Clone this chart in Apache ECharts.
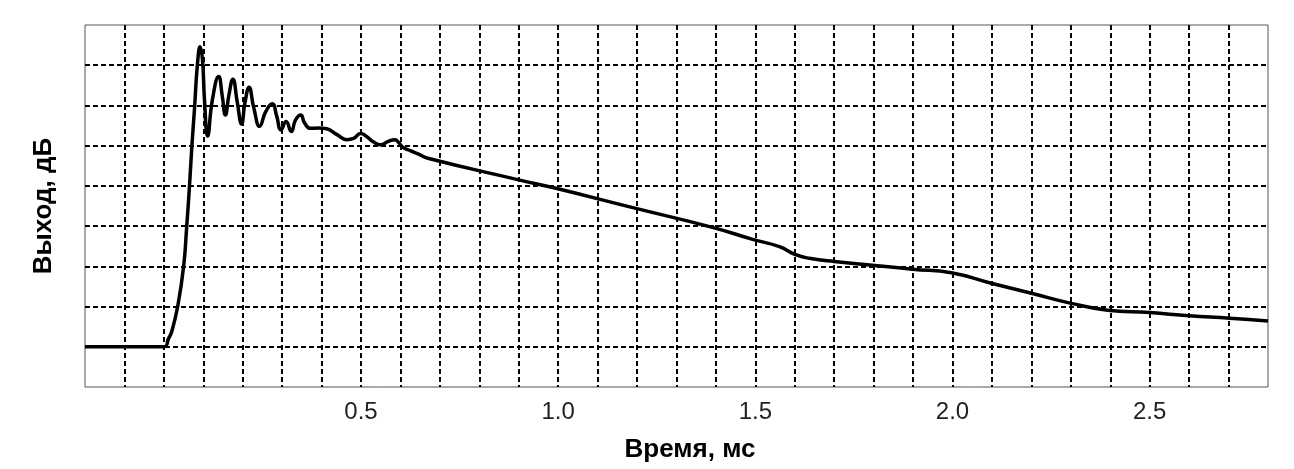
<!DOCTYPE html>
<html>
<head>
<meta charset="utf-8">
<title>Выход, дБ</title>
<script src="https://cdn.jsdelivr.net/npm/echarts@6/dist/echarts.min.js"></script>
<style>
  html, body { margin: 0; padding: 0; background: #fff; }
  #chart { width: 1294px; height: 469px; }
</style>
</head>
<body>
<div id="chart"></div>
<script>
// отклик: время (мс) и выход (деления сетки)
const timeMs = [
  -0.2, 0.0, 0.012, 0.020, 0.035, 0.050, 0.058, 0.065, 0.071, 0.078, 0.085, 0.092,
  0.098, 0.103, 0.111, 0.123, 0.139, 0.148, 0.156, 0.165, 0.175, 0.186, 0.197,
  0.206, 0.216, 0.228, 0.243, 0.258, 0.275, 0.286, 0.297, 0.310, 0.323, 0.334,
  0.347, 0.357, 0.372, 0.393, 0.413, 0.438, 0.464, 0.481, 0.499, 0.514, 0.532,
  0.550, 0.568, 0.586, 0.596, 0.606, 0.626, 0.646, 0.672, 0.900, 0.994, 1.197,
  1.391, 1.493, 1.561, 1.602, 1.637, 1.700, 1.899, 1.997, 2.098, 2.200, 2.301,
  2.393, 2.500, 2.600, 2.703, 2.800
];
const outputLevel = [
  1.00, 1.00, 1.21, 1.38, 2.00, 2.99, 4.00, 5.00, 5.98, 6.97, 8.01, 8.46,
  8.13, 7.14, 6.24, 7.14, 7.72, 7.24, 6.76, 7.26, 7.65, 7.09, 6.54,
  7.09, 7.45, 6.94, 6.48, 6.84, 7.04, 6.74, 6.39, 6.60, 6.35, 6.64,
  6.76, 6.56, 6.43, 6.44, 6.42, 6.28, 6.15, 6.18, 6.30, 6.23, 6.09,
  6.02, 6.10, 6.15, 6.07, 5.96, 5.87, 5.79, 5.68, 5.15, 4.94, 4.44,
  3.97, 3.67, 3.49, 3.29, 3.20, 3.12, 2.93, 2.84, 2.58, 2.33, 2.08,
  1.91, 1.85, 1.77, 1.71, 1.64
];
const labeledTicks = [0.5, 1.0, 1.5, 2.0, 2.5];

const font = '"Liberation Sans", Arial, sans-serif';
const chart = echarts.init(document.getElementById('chart'));

const gridDash = {
  show: true,
  showMinLine: false,
  showMaxLine: false,
  lineStyle: { color: '#000', width: 2, type: [5, 3] }
};

chart.setOption({
  animation: false,
  grid: {
    left: 85, right: 26, top: 25, bottom: 82,
    show: true, borderColor: '#555', borderWidth: 1, backgroundColor: '#fff'
  },
  xAxis: {
    type: 'value',
    min: -0.2,
    max: 2.8,
    interval: 0.1,
    name: 'Время, мс',
    nameLocation: 'middle',
    nameGap: 50,
    nameTextStyle: { fontFamily: font, fontSize: 26, fontWeight: 'bold', color: '#000', padding: [0, 0, 0, 27] },
    axisLine: { show: false },
    axisTick: { show: false },
    axisLabel: {
      fontFamily: font, fontSize: 24, color: '#222', margin: 13,
      formatter: v => {
        const r = Math.round(v * 10) / 10;
        return labeledTicks.some(t => Math.abs(t - r) < 1e-6) ? r.toFixed(1) : '';
      }
    },
    splitLine: gridDash
  },
  yAxis: {
    type: 'value',
    min: 0,
    max: 9,
    interval: 1,
    name: 'Выход, дБ',
    nameLocation: 'middle',
    nameGap: 28,
    nameTextStyle: { fontFamily: font, fontSize: 26, fontWeight: 'bold', color: '#000' },
    axisLine: { show: false },
    axisTick: { show: false },
    axisLabel: { show: false },
    splitLine: gridDash
  },
  series: [{
    type: 'line',
    data: timeMs.map((t, i) => [t, outputLevel[i]]),
    smooth: 0.5,
    showSymbol: false,
    lineStyle: { color: '#000', width: 3.5 }
  }]
});
</script>
</body>
</html>
